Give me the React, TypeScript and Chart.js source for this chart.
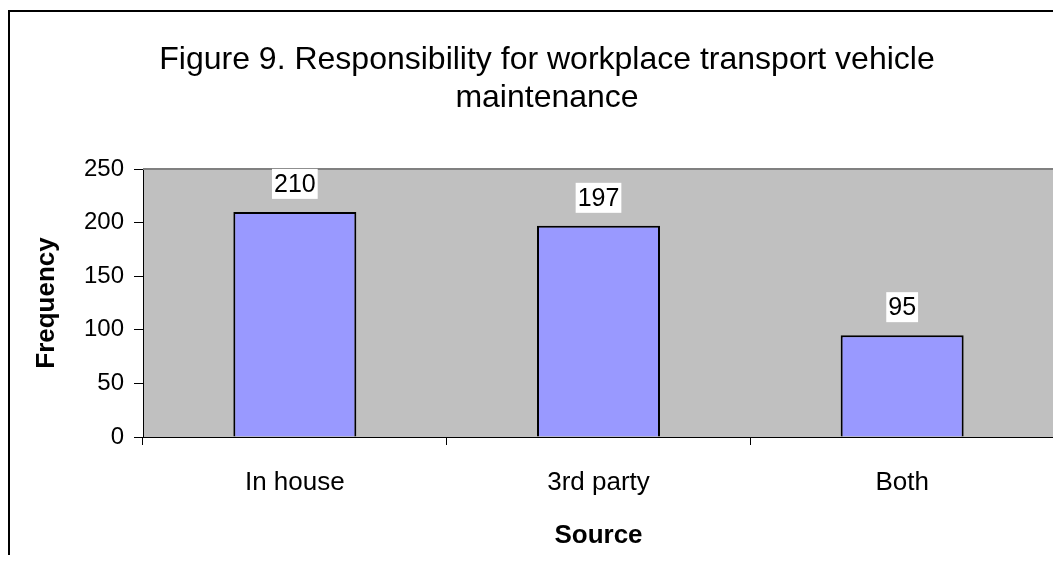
import React, { useEffect, useRef } from "react";
import { Chart, registerables } from "chart.js";

Chart.register(...registerables);

const titleLines = [
  "Figure 9. Responsibility for workplace transport vehicle",
  "maintenance",
];
const categories = ["In house", "3rd party", "Both"];
const frequencies = [210, 197, 95];
const yTicks = [0, 50, 100, 150, 200, 250];
const xAxisTitle = "Source";
const yAxisTitle = "Frequency";

const FONT = "'Liberation Sans', Arial, Helvetica, sans-serif";

export default function App() {
  const canvasRef = useRef<HTMLCanvasElement | null>(null);

  useEffect(() => {
    const canvas = canvasRef.current;
    if (!canvas) return;

    const plotBackground = {
      id: "plotBackground",
      beforeDraw(chart: any) {
        const { ctx, chartArea } = chart;
        ctx.save();
        ctx.fillStyle = "#C0C0C0";
        ctx.fillRect(chartArea.left, chartArea.top, chartArea.right - chartArea.left, chartArea.bottom - chartArea.top);
        ctx.restore();
      },
      beforeDatasetsDraw(chart: any) {
        const { ctx, chartArea } = chart;
        ctx.save();
        ctx.strokeStyle = "#808080";
        ctx.lineWidth = 2;
        ctx.beginPath();
        ctx.moveTo(chartArea.left, chartArea.top);
        ctx.lineTo(chartArea.right, chartArea.top);
        ctx.lineTo(chartArea.right, chartArea.bottom);
        ctx.stroke();
        ctx.restore();
      },
    };

    const valueLabels = {
      id: "valueLabels",
      afterDatasetsDraw(chart: any) {
        const { ctx } = chart;
        const meta = chart.getDatasetMeta(0);
        ctx.save();
        ctx.font = `25px ${FONT}`;
        ctx.textAlign = "center";
        ctx.textBaseline = "middle";
        meta.data.forEach((bar: any, i: number) => {
          const text = String(frequencies[i]);
          const w = ctx.measureText(text).width + 4;
          const h = 30;
          const cx = bar.x;
          const cy = bar.y - 28;
          ctx.fillStyle = "#FFFFFF";
          ctx.fillRect(cx - w / 2, cy - h / 2, w, h);
          ctx.fillStyle = "#000000";
          ctx.fillText(text, cx, cy + 1);
        });
        ctx.restore();
      },
    };

    const chartTitle = {
      id: "chartTitle",
      afterDraw(chart: any) {
        const { ctx } = chart;
        ctx.save();
        ctx.font = `32px ${FONT}`;
        ctx.fillStyle = "#000000";
        ctx.textAlign = "center";
        ctx.textBaseline = "alphabetic";
        ctx.fillText(titleLines[0], 537, 57);
        ctx.fillText(titleLines[1], 537, 95);
        ctx.restore();
      },
    };

    const chart = new Chart(canvas, {
      type: "bar",
      data: {
        labels: categories,
        datasets: [
          {
            label: yAxisTitle,
            data: frequencies,
            backgroundColor: "#9999FF",
            borderColor: "#000000",
            borderWidth: 2,
            categoryPercentage: 1,
            barPercentage: 0.405,
          },
        ],
      },
      options: {
        responsive: false,
        animation: false,
        layout: { padding: { left: 0, top: 157, right: 7, bottom: 0 } },
        plugins: {
          legend: { display: false },
          tooltip: { enabled: false },
          title: { display: false },
        },
        scales: {
          x: {
            offset: true,
            grid: {
              offset: true,
              drawOnChartArea: false,
              drawTicks: true,
              tickLength: 8,
              color: "#000000",
            },
            border: { display: true, color: "#000000", width: 1 },
            ticks: {
              color: "#000000",
              font: { family: FONT, size: 26 },
              padding: 22,
              maxRotation: 0,
            },
            title: {
              display: true,
              text: xAxisTitle,
              color: "#000000",
              font: { family: FONT, size: 26, weight: "bold" },
              padding: { top: 0, bottom: 4 },
            },
            afterFit(scale: any) {
              scale.height = 118;
            },
          },
          y: {
            min: 0,
            max: Math.max(...yTicks),
            grid: {
              drawOnChartArea: false,
              drawTicks: true,
              tickLength: 9,
              color: "#000000",
            },
            border: { display: true, color: "#000000", width: 1 },
            ticks: {
              color: "#000000",
              font: { family: FONT, size: 24 },
              padding: 10,
            },
            afterBuildTicks(scale: any) {
              scale.ticks = yTicks.map((v) => ({ value: v }));
            },
            title: {
              display: true,
              text: yAxisTitle,
              color: "#000000",
              font: { family: FONT, size: 26, weight: "bold" },
              padding: { top: 21, bottom: 0 },
            },
            afterFit(scale: any) {
              scale.width = 133;
            },
          },
        },
      },
      plugins: [plotBackground, valueLabels, chartTitle],
    });

    return () => {
      chart.destroy();
    };
  }, []);

  return (
    <div
      style={{
        marginTop: 2,
        width: 1051,
        height: 543,
        borderLeft: "2px solid #000",
        borderTop: "2px solid #000",
        overflow: "hidden",
        background: "#fff",
      }}
    >
      <canvas ref={canvasRef} width={1051} height={543} style={{ display: "block", width: 1051, height: 543 }} />
    </div>
  );
}
